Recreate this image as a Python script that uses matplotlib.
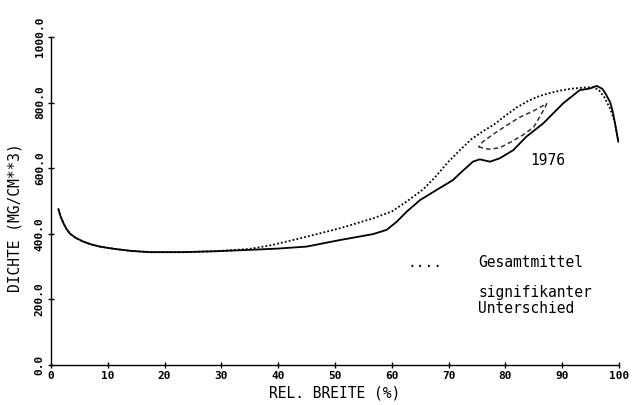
import matplotlib
matplotlib.use("Agg")
import matplotlib.pyplot as plt
import numpy as np

# Dichteprofil 1976 (durchgezogen)
x_1976 = [1.3, 1.7, 2.2, 2.7, 3.3, 4.3, 5.7, 7, 8.6, 10, 11.6, 14, 17.4, 23.3, 29.2,
          35, 40, 45, 50.9, 56.7, 59.1, 60.9, 62.6, 65, 68.5, 70.8, 72, 74.3, 75.5,
          77.3, 79, 81.4, 83.7, 86.7, 90.2, 93.1, 94.9, 96.1, 97.1, 97.8, 98.5,
          99, 99.9]
y_1976 = [475, 452, 432, 415, 401, 388, 376, 368, 361, 357, 353, 348, 344, 344, 347,
          351, 355, 361, 381, 399, 412, 437, 467, 503, 540, 564, 584, 620, 627,
          620, 630, 655, 696, 737, 798, 838, 843, 851, 842, 823, 800,
          767, 681]

# Gesamtmittel (punktiert)
x_mittel = [1.3, 1.7, 2.2, 2.7, 3.3, 4.3, 5.7, 7, 8.6, 10, 11.6, 14, 17.4, 23.3,
            29.2, 35, 39, 45, 50.9, 56.7, 60, 62.6, 65.5, 67.5, 70, 72, 74, 76, 78,
            80, 82, 84, 86, 88, 90, 92, 94, 95.5, 96.5, 97.5, 98.5, 99.3, 99.9]
y_mittel = [475, 452, 432, 415, 401, 388, 376, 368, 361, 357, 353, 348, 344, 344,
            347, 354, 366, 391, 417, 447, 468, 498, 535, 570, 620, 655, 688, 712, 733,
            760, 785, 805, 820, 830, 838, 843, 846, 847, 838, 815, 780, 740, 681]

# signifikanter Unterschied (gestrichelte Schleife)
x_sig = [75.3, 77, 79, 81, 83, 85, 87, 87.3, 85, 82.5, 80, 78, 76, 75.3]
y_sig = [665, 658, 662, 680, 700, 725, 785, 797, 775, 755, 728, 705, 680, 665]

x_ticks = np.arange(0, 101, 10)
y_ticks = np.arange(0, 1001, 200)

mono = "DejaVu Sans Mono"

fig = plt.figure(figsize=(6.38, 4.05), dpi=100)
ax = fig.add_axes([0.080, 0.0988, 0.890, 0.8098])

ax.plot(x_1976, y_1976, color="black", linewidth=1.3, solid_joinstyle="round")
ax.plot(x_mittel, y_mittel, color="black", linewidth=1.3, linestyle=(0, (1, 1.2)))
ax.plot(x_sig, y_sig, color="#333333", linewidth=1.1, linestyle=(0, (3, 2)))

ax.set_xlim(0, 100)
ax.set_ylim(0, 1000)
ax.spines["top"].set_visible(False)
ax.spines["right"].set_visible(False)
for s in ("left", "bottom"):
    ax.spines[s].set_linewidth(1.0)

ax.set_xticks(x_ticks)
ax.set_yticks(y_ticks)
ax.set_xticklabels([str(v) for v in x_ticks], fontfamily=mono, fontsize=8, fontweight="bold")
ax.set_yticklabels([f"{v:.1f}" for v in y_ticks], fontfamily=mono, fontsize=8,
                   fontweight="bold", rotation=90, va="center")
ax.tick_params(direction="inout", length=5, width=1.0, pad=2)

ax.set_xlabel("REL. BREITE (%)", fontfamily=mono, fontsize=10.5, labelpad=3)
ax.set_ylabel("DICHTE (MG/CM**3)", fontfamily=mono, fontsize=10.5)
ax.yaxis.set_label_coords(-0.05, 0.45)

ax.text(87.5, 625, "1976", fontfamily=mono, fontsize=10.5, ha="center", va="center")
ax.text(65.8, 314, "....", fontfamily=mono, fontsize=10.5, ha="center", va="center")
ax.text(75.2, 314, "Gesamtmittel", fontfamily=mono, fontsize=10.5, ha="left", va="center")
ax.text(75.2, 245, "signifikanter\nUnterschied", fontfamily=mono, fontsize=10.5,
        ha="left", va="top", linespacing=1.1)

fig.savefig("out.png", dpi=100)
